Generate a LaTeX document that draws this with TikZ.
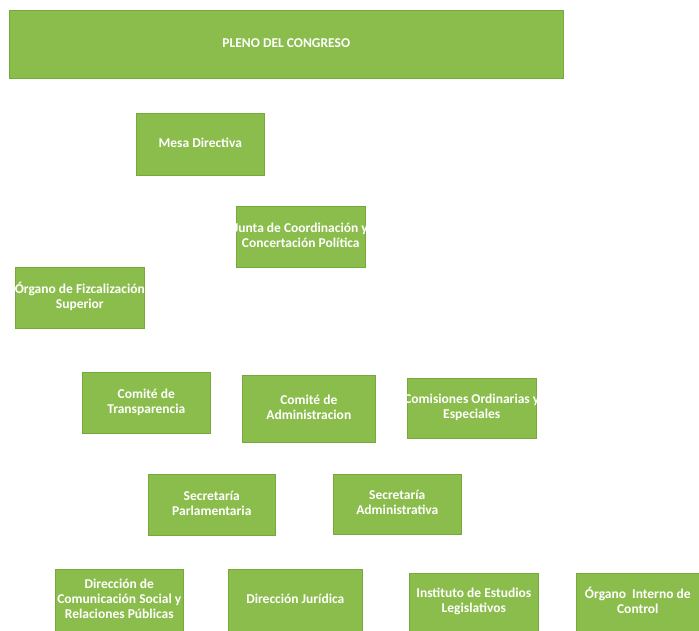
\documentclass[tikz,border=0pt]{standalone}
\usepackage{fontspec}
\setmainfont{Carlito}
\definecolor{boxgreen}{RGB}{139,189,76}
\definecolor{boxedge}{RGB}{118,168,60}
\begin{document}
\begin{tikzpicture}[x=1pt,y=-1pt,
  orgbox/.style={draw=boxedge,line width=0.6pt,fill=boxgreen,text=white,
    font=\fontsize{13.5}{14.8}\selectfont\bfseries,
    inner sep=0pt,anchor=north west}]
\useasboundingbox (0,0) rectangle (699,631);
\fill[white] (0,0) rectangle (699,631);
\newcommand{\orgnode}[6]{%
  \node[orgbox,minimum width=#4-#2,minimum height=#5-#3] (#1) at (#2,#3)
    {\makebox[0pt][c]{\begin{tabular}{@{}c@{}}#6\end{tabular}}};}
\orgnode{pleno}{9}{10}{563}{78}{PLENO DEL CONGRESO}
\orgnode{mesa}{136}{113}{264}{175}{Mesa Directiva}
\orgnode{junta}{236}{206}{365}{267}{Junta de Coordinación y\\Concertación Política}
\orgnode{fiscal}{15}{267}{144}{328}{Órgano de Fizcalización\\Superior}
\orgnode{transp}{82}{372}{210}{433}{Comité de\\Transparencia}
\orgnode{admin}{242}{375}{375}{442}{Comité de\\Administracion}
\orgnode{comis}{407}{378}{536}{438}{Comisiones Ordinarias y\\Especiales}
\orgnode{secpar}{148}{474}{275}{535}{Secretaría\\Parlamentaria}
\orgnode{secadm}{333}{474}{461}{534}{Secretaría\\Administrativa}
\orgnode{dircom}{55}{569}{183}{631}{Dirección de\\Comunicación Social y\\Relaciones Públicas}
\orgnode{dirjur}{228}{569}{362}{631}{Dirección Jurídica}
\orgnode{inst}{409}{573}{538}{631}{Instituto de Estudios\\Legislativos}
\orgnode{oic}{576}{573}{699}{631}{Órgano\ \ Interno de\\Control}
\end{tikzpicture}
\end{document}
